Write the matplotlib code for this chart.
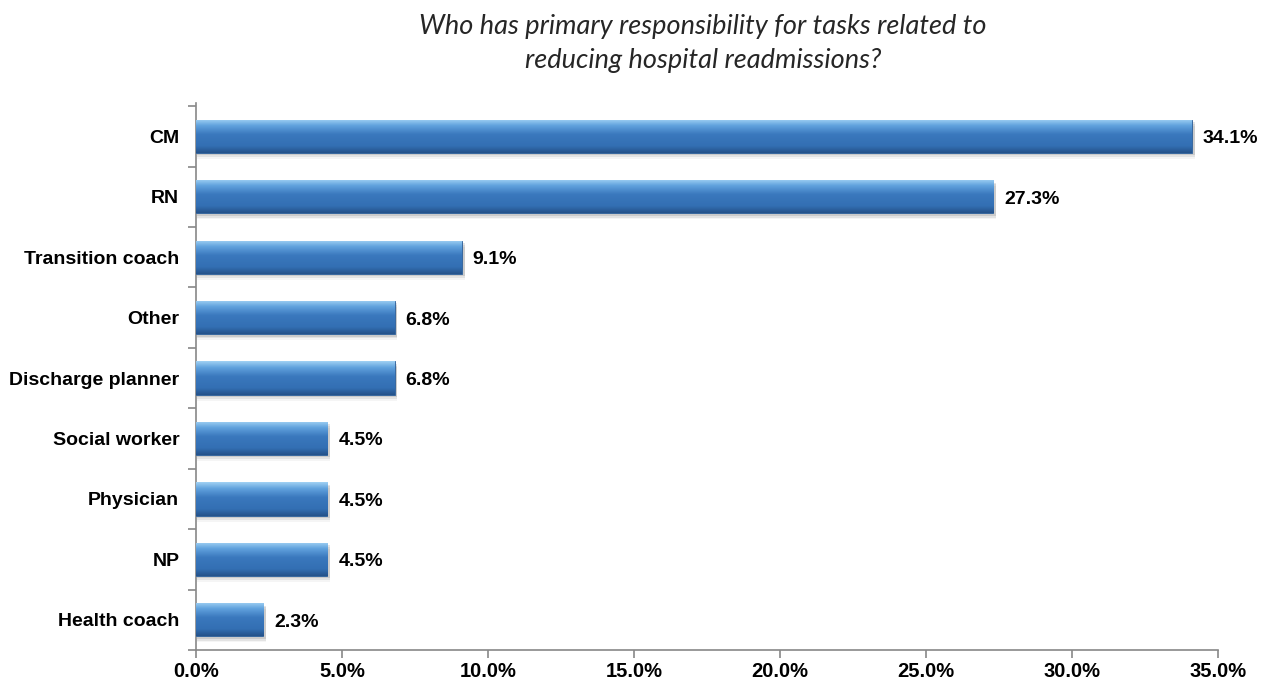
import numpy as np
import matplotlib.pyplot as plt
from matplotlib.colors import LinearSegmentedColormap

categories = ["CM", "RN", "Transition coach", "Other", "Discharge planner",
              "Social worker", "Physician", "NP", "Health coach"]
values = [34.1, 27.3, 9.1, 6.8, 6.8, 4.5, 4.5, 4.5, 2.3]
value_labels = ["34.1%", "27.3%", "9.1%", "6.8%", "6.8%", "4.5%", "4.5%", "4.5%", "2.3%"]
xticks = [0, 5, 10, 15, 20, 25, 30, 35]
xtick_labels = ["0.0%", "5.0%", "10.0%", "15.0%", "20.0%", "25.0%", "30.0%", "35.0%"]
title = "Who has primary responsibility for tasks related to\nreducing hospital readmissions?"

label_font = "Liberation Sans"

fig = plt.figure(figsize=(12.71, 6.87), dpi=100)
ax = fig.add_axes([0.1542, 0.0539, 0.8041, 0.7961])

y = np.arange(len(categories))
bars = ax.barh(y, values, height=0.55, color="#3a78bd", edgecolor="#2d5f99", linewidth=0.6, zorder=3)

# soft drop shadow under each bar
for b in bars:
    x0, y0 = b.get_x(), b.get_y()
    w, h = b.get_width(), b.get_height()
    for k, a in enumerate([0.10, 0.07, 0.04]):
        ax.add_patch(plt.Rectangle((x0 + 0.05, y0 + 0.04 + k * 0.03), w + 0.05, h, color="black",
                                   alpha=a, lw=0, zorder=2))

# vertical gradient inside bars
cmap = LinearSegmentedColormap.from_list(
    "barg", [(0, "#9fd0f3"), (0.18, "#62a3de"), (0.45, "#3a78bd"), (0.8, "#336fb3"), (1, "#25528a")])
grad = np.linspace(0, 1, 64).reshape(-1, 1)
for b in bars:
    x0, y0 = b.get_x(), b.get_y()
    w, h = b.get_width(), b.get_height()
    im = ax.imshow(grad, cmap=cmap, aspect="auto", extent=(x0, x0 + w, y0 + h, y0),
                   origin="upper", zorder=4)
    im.set_clip_path(b)

for b, lab in zip(bars, value_labels):
    ax.text(b.get_width() + 0.38, b.get_y() + b.get_height() / 2 + 0.04, lab,
            va="center", ha="left", fontsize=14, fontweight="bold", family=label_font, zorder=5)

ax.set_xlim(0, 35)
ax.set_ylim(len(categories) - 0.5, -0.55)
ax.set_xticks(xticks)
ax.set_xticklabels(xtick_labels, fontsize=14.5, fontweight="bold", family=label_font)
ax.set_yticks(y)
ax.set_yticklabels(categories, fontsize=14, fontweight="bold", family=label_font)
ax.set_yticks(np.arange(-0.5, len(categories)), minor=True)
ax.tick_params(axis="y", which="major", length=0, pad=12)
ax.tick_params(axis="y", which="minor", length=6, color="#888888", width=1.2)
ax.tick_params(axis="x", length=6, color="#888888", width=1.2, pad=3)

for s in ["top", "right"]:
    ax.spines[s].set_visible(False)
for s in ["left", "bottom"]:
    ax.spines[s].set_color("#888888")
    ax.spines[s].set_linewidth(1.2)

fig.text(0.553, 0.98, title, ha="center", va="top", fontsize=19.5, style="italic",
         family="Lato", color="#262626", linespacing=1.45)

fig.savefig("out.png", dpi=100)
